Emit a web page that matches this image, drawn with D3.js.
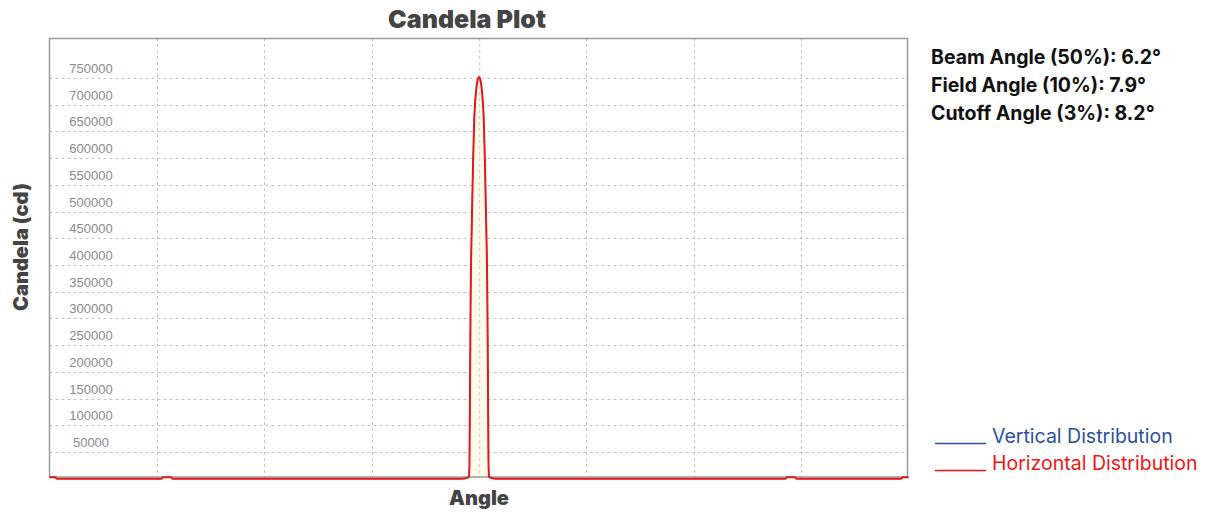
<!DOCTYPE html>
<html>
<head>
<meta charset="utf-8">
<script src="https://cdn.jsdelivr.net/npm/d3@7"></script>
<style>
  html, body { margin: 0; padding: 0; background: #fff; }
  svg { display: block; }
</style>
</head>
<body>
<div id="chart"></div>
<script>
// ---- Data ----
const angles = [-180, -177.5, -177, -133, -132.5, -129, -128.5, -90, -45, -10, -8, -6, -5, -4.5, -4.25, -4, -3.75, -3.5, -3, -2.5, -2, -1.5, -1, -0.5, 0,
                0.5, 1, 1.5, 2, 2.5, 3, 3.5, 3.75, 4, 4.25, 4.5, 5, 6, 8, 10, 45, 90, 128.5, 129, 132.5, 133, 177, 177.5, 180];
const horizontalCandela = [2500, 2500, 0, 0, 2500, 2500, 0, 0, 0, 0, 0, 500, 1500, 2500, 4000, 25000, 185000, 340000, 480000, 590000, 672000, 712000, 735000, 748000, 752000,
                748000, 735000, 712000, 672000, 590000, 480000, 340000, 185000, 25000, 4000, 2500, 1500, 500, 0, 0, 0, 0, 0, 2500, 2500, 0, 0, 2500, 2500];
const verticalCandela = [2500, 2500, 0, 0, 2500, 2500, 0, 0, 0, 0, 0, 500, 1500, 2500, 4000, 25000, 185000, 340000, 480000, 590000, 672000, 712000, 735000, 748000, 752000,
                748000, 735000, 712000, 672000, 590000, 480000, 340000, 185000, 25000, 4000, 2500, 1500, 500, 0, 0, 0, 0, 0, 2500, 2500, 0, 0, 2500, 2500];
const xGridTicks = [-135, -90, -45, 0, 45, 90, 135];
const yTickValues = [50000, 100000, 150000, 200000, 250000, 300000, 350000, 400000, 450000, 500000, 550000, 600000, 650000, 700000, 750000];
const statLines = ["Beam Angle (50%): 6.2°", "Field Angle (10%): 7.9°", "Cutoff Angle (3%): 8.2°"];
const legendItems = ["Vertical Distribution", "Horizontal Distribution"];
const legendColors = ["#2b4f9e", "#f01414"];

// ---- Layout ----
const W = 1205, H = 512;
const svg = d3.select("#chart").append("svg").attr("width", W).attr("height", H);
svg.append("rect").attr("width", W).attr("height", H).attr("fill", "#fff");

const x = d3.scaleLinear().domain([-180, 180]).range([49.5, 908.5]);
const y = d3.scaleLinear().domain([0, 825000]).range([478.7, 38]);

const g = svg.append("g");

// horizontal grid
g.selectAll(".hg").data(yTickValues).join("line")
  .attr("x1", x(-180)).attr("x2", x(180))
  .attr("y1", d => Math.round(y(d)) + 0.5).attr("y2", d => Math.round(y(d)) + 0.5)
  .attr("stroke", "#c4c4c4").attr("stroke-width", 1).attr("stroke-dasharray", "3,3");

// vertical grid
g.selectAll(".vg").data(xGridTicks).join("line")
  .attr("x1", d => Math.round(x(d)) + 0.5).attr("x2", d => Math.round(x(d)) + 0.5)
  .attr("y1", y.range()[1]).attr("y2", 478)
  .attr("stroke", "#c4c4c4").attr("stroke-width", 1).attr("stroke-dasharray", "3,3");

const hData = angles.map((a, i) => ({a, v: horizontalCandela[i]}));
const vData = angles.map((a, i) => ({a, v: verticalCandela[i]}));

// fill under horizontal curve
const area = d3.area().x(d => x(d.a)).y0(y(0)).y1(d => y(d.v)).curve(d3.curveMonotoneX);
g.append("path").datum(hData).attr("d", area).attr("fill", "#fffaea");

// center dashed line on top of fill
g.append("line")
  .attr("x1", Math.round(x(0)) + 0.5).attr("x2", Math.round(x(0)) + 0.5)
  .attr("y1", y.range()[1]).attr("y2", 478)
  .attr("stroke", "#d6d6d6").attr("stroke-width", 1.5).attr("stroke-dasharray", "3,3");

// frame
g.append("rect").attr("x", 49.5).attr("y", 38.5).attr("width", 858).attr("height", 438.5)
  .attr("fill", "none").attr("stroke", "#9a9a9a").attr("stroke-width", 1.5);

// lines
const line = d3.line().x(d => x(d.a)).y(d => y(d.v)).curve(d3.curveMonotoneX);
g.append("path").datum(vData).attr("d", line).attr("fill", "none")
  .attr("stroke", legendColors[0]).attr("stroke-width", 1);
g.append("path").datum(hData).attr("d", line).attr("fill", "none")
  .attr("stroke", "#e31a1c").attr("stroke-width", 2);

// y tick labels
g.selectAll(".yl").data(yTickValues).join("text")
  .attr("x", 91).attr("y", d => y(d) - 5)
  .attr("text-anchor", "middle")
  .attr("font-family", "'Liberation Sans', Arial, sans-serif")
  .attr("font-size", 13).attr("fill", "#8a8a8a")
  .text(d => d);

// title
svg.append("text").attr("x", 467).attr("y", 28).attr("text-anchor", "middle")
  .attr("font-family", "Inter, sans-serif").attr("font-weight", 900)
  .attr("font-size", 25).attr("fill", "#444").text("Candela Plot");

// axis titles
svg.append("text").attr("x", 479).attr("y", 505).attr("text-anchor", "middle")
  .attr("font-family", "Inter, sans-serif").attr("font-weight", 900)
  .attr("font-size", 20).attr("fill", "#444").text("Angle");
svg.append("text").attr("transform", "translate(28,247) rotate(-90)").attr("text-anchor", "middle")
  .attr("font-family", "Inter, sans-serif").attr("font-weight", 900)
  .attr("font-size", 20).attr("fill", "#444").text("Candela (cd)");

// stats
svg.selectAll(".st").data(statLines).join("text")
  .attr("x", 931).attr("y", (d, i) => 64 + i * 28)
  .attr("font-family", "Inter, sans-serif").attr("font-weight", 700)
  .attr("font-size", 19.5).attr("fill", "#111").text(d => d);

// legend
const leg = svg.selectAll(".lg").data(legendItems).join("g");
leg.append("line")
  .attr("x1", 935).attr("x2", 986)
  .attr("y1", (d, i) => 443.5 + i * 27).attr("y2", (d, i) => 443.5 + i * 27)
  .attr("stroke", (d, i) => legendColors[i]).attr("stroke-width", 1.5);
leg.append("text")
  .attr("x", 992).attr("y", (d, i) => 443 + i * 27)
  .attr("font-family", "Inter, sans-serif").attr("font-weight", 400)
  .attr("font-size", 19.5).attr("fill", (d, i) => legendColors[i]).text(d => d);
</script>
</body>
</html>
